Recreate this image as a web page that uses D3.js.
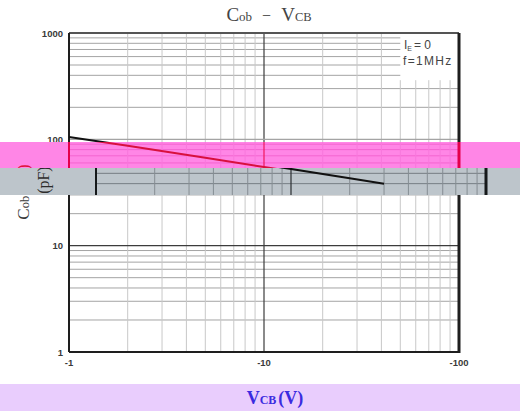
<!DOCTYPE html>
<html>
<head>
<meta charset="utf-8">
<script src="https://cdn.jsdelivr.net/npm/d3@7"></script>
<style>
  body { margin: 0; background: #fff; }
  svg { display: block; }
</style>
</head>
<body>
<div id="chart"></div>
<script>
// Cob - VCB data
const vcb = [-1, -2, -5, -10, -20, -30];
const cob = [105, 87, 67, 55, 45, 40];
const xTickLabels = [-1, -10, -100];
const yTickLabels = [1, 10, 100, 1000];
const legendLines = ["f=1MHz"];

const width = 520, height = 412;
const plotL = 69, plotR = 459, plotT = 33, plotB = 352;

const x = d3.scaleLog().domain([-1, -100]).range([plotL, plotR]);
const y = d3.scaleLog().domain([1, 1000]).range([plotB, plotT]);

const svg = d3.select("#chart").append("svg")
  .attr("width", width).attr("height", height);

const defs = svg.append("defs");
function clipBand(id, y0, y1) {
  defs.append("clipPath").attr("id", id)
    .append("rect").attr("x", 0).attr("y", y0).attr("width", width).attr("height", y1 - y0);
}
clipBand("pinkClip", 142, 168);
clipBand("greyClip", 168, 195);

const serif = "'Liberation Serif', 'DejaVu Serif', serif";
const sans = "'Liberation Sans', Arial, sans-serif";

// palettes for the plain chart and the two coloured strips
const plain = { bg: "#fff", hgrid: "#a4a4a4", vgrid: "#c8c8c8", major: "#3c3c3c", border: "#1e1e1e",
  curve: "#111", text: "#3a3a3a", labelDx: 0, full: true };
const pink = { bg: "#ff86e6", hgrid: "#f464d0", vgrid: "#f878dc", major: "#f0185c", border: "#e4004a",
  curve: "#d8103e", text: "#e0103c", labelDx: 0, full: false };
const grey = { bg: "#bdc5cb", hgrid: "#767e84", vgrid: "#858d93", major: "#2a2e31", border: "#15181a",
  curve: "#111", text: "#2c2c2c", labelDx: -7, full: false };

function drawChart(g, p) {
  g.append("rect").attr("x", -40).attr("y", 0).attr("width", width + 80).attr("height", height)
    .attr("fill", p.bg);

  const xMinor = x.ticks().filter(d => !xTickLabels.includes(d));
  const yMinor = y.ticks().filter(d => !yTickLabels.includes(d));
  const legendX = x(-50), legendY = y(360);

  // horizontal grid
  g.selectAll(".hg").data(yMinor).enter().append("line")
    .attr("x1", plotL).attr("x2", d => d > 360 ? legendX : plotR)
    .attr("y1", d => y(d)).attr("y2", d => y(d))
    .attr("stroke", p.hgrid).attr("stroke-width", 1);

  // vertical grid
  g.selectAll(".vg").data(xMinor).enter().append("line")
    .attr("x1", d => x(d)).attr("x2", d => x(d))
    .attr("y1", d => x(d) >= legendX - 0.5 ? legendY : plotT).attr("y2", plotB)
    .attr("stroke", p.vgrid).attr("stroke-width", 1);

  // decade lines
  g.append("line").attr("x1", x(-10)).attr("x2", x(-10)).attr("y1", plotT).attr("y2", plotB)
    .attr("stroke", p.major).attr("stroke-width", 1.2);
  g.append("line").attr("x1", plotL).attr("x2", plotR).attr("y1", y(10)).attr("y2", y(10))
    .attr("stroke", p.major).attr("stroke-width", 1.2);
  g.append("line").attr("x1", plotL).attr("x2", plotR).attr("y1", y(100)).attr("y2", y(100))
    .attr("stroke", p.hgrid).attr("stroke-width", 1.3);

  // frame
  g.append("line").attr("x1", plotL).attr("x2", plotR).attr("y1", plotT).attr("y2", plotT)
    .attr("stroke", "#555").attr("stroke-width", 1.8);
  g.append("line").attr("x1", plotL).attr("x2", plotR + 1).attr("y1", plotB).attr("y2", plotB)
    .attr("stroke", p.border).attr("stroke-width", 2);
  g.append("line").attr("x1", plotL).attr("x2", plotL).attr("y1", plotT).attr("y2", plotB)
    .attr("stroke", p.border).attr("stroke-width", 2);
  g.append("line").attr("x1", plotR).attr("x2", plotR).attr("y1", plotT).attr("y2", plotB + 1)
    .attr("stroke", p.border).attr("stroke-width", 3);

  // curve
  const line = d3.line().x((d, i) => x(vcb[i])).y(d => y(d));
  g.append("path").datum(cob).attr("d", line)
    .attr("fill", "none").attr("stroke", p.curve).attr("stroke-width", 2);

  // y axis title (also shows through the strips)
  const yl = g.append("text")
    .attr("transform", `translate(${29 + p.labelDx},192) rotate(-90)`)
    .attr("text-anchor", "middle").attr("font-family", serif).attr("fill", p.text);
  yl.append("tspan").attr("font-size", 17).text("C");
  yl.append("tspan").attr("font-size", 12.5).text("ob");
  yl.append("tspan").attr("font-size", 16).attr("dx", 4).text("(pF)");

  if (!p.full) return;

  // tick labels
  g.selectAll(".yt").data(yTickLabels).enter().append("text")
    .attr("x", plotL - 6).attr("y", d => y(d) + 3.5)
    .attr("text-anchor", "end").attr("font-family", sans).attr("font-weight", "bold")
    .attr("font-size", 9.5).attr("fill", p.text).text(d => d);
  g.selectAll(".xt").data(xTickLabels).enter().append("text")
    .attr("x", d => x(d)).attr("y", plotB + 14)
    .attr("text-anchor", "middle").attr("font-family", sans).attr("font-weight", "bold")
    .attr("font-size", 9.5).attr("fill", p.text).text(d => d);

  // legend
  const lg = g.append("text").attr("x", 404).attr("y", 49)
    .attr("font-family", sans).attr("font-size", 12).attr("fill", "#444");
  lg.append("tspan").text("I");
  lg.append("tspan").attr("font-size", 7).attr("dy", 2).text("E");
  lg.append("tspan").attr("dy", -2).attr("dx", 2).text("= 0");
  g.selectAll(".lg").data(legendLines).enter().append("text")
    .attr("x", 403).attr("y", 65).attr("font-family", sans).attr("font-size", 12)
    .attr("letter-spacing", 1.3).attr("fill", "#444").text(d => d);
}

// base chart
drawChart(svg.append("g"), plain);

// title
const title = svg.append("text").attr("x", 269).attr("y", 21)
  .attr("text-anchor", "middle").attr("font-family", serif).attr("fill", "#444");
title.append("tspan").attr("font-size", 19).text("C");
title.append("tspan").attr("font-size", 13).text("ob");
title.append("tspan").attr("font-size", 16).attr("dx", 10).text("−");
title.append("tspan").attr("font-size", 19).attr("dx", 10).text("V");
title.append("tspan").attr("font-size", 12.5).text("CB");

// pink strip
drawChart(svg.append("g").attr("clip-path", "url(#pinkClip)").append("g"), pink);

// grey strip (shifted copy)
drawChart(svg.append("g").attr("clip-path", "url(#greyClip)").append("g")
  .attr("transform", "translate(27,2)"), grey);

// lavender strip with x axis title
svg.append("rect").attr("x", 0).attr("y", 384).attr("width", width).attr("height", 27)
  .attr("fill", "#e9cdfd");
const xl = svg.append("text").attr("x", 275).attr("y", 404)
  .attr("text-anchor", "middle").attr("font-family", serif).attr("font-weight", "bold")
  .attr("fill", "#3b2be0");
xl.append("tspan").attr("font-size", 18).text("V");
xl.append("tspan").attr("font-size", 12).text("CB");
xl.append("tspan").attr("font-size", 18).attr("dx", 2).text("(V)");
</script>
</body>
</html>
